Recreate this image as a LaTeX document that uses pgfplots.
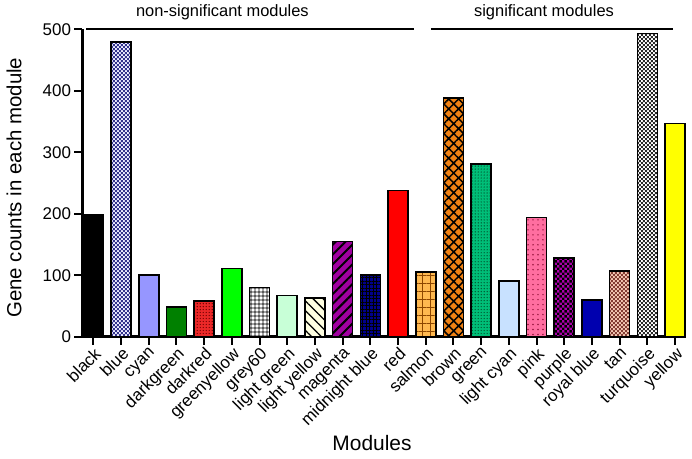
\documentclass[border=0pt]{standalone}
\usepackage{fontspec}
\setmainfont{Liberation Sans}
\usepackage{pgfplots}
\pgfplotsset{compat=1.18}
\usetikzlibrary{patterns,patterns.meta}
\tikzdeclarepattern{
  name=checker,
  type=uncolored,
  bounding box={(0pt,0pt) and (4pt,4pt)},
  tile size={(4pt,4pt)},
  code={\fill (0pt,0pt) rectangle (2pt,2pt); \fill (2pt,2pt) rectangle (4pt,4pt);}
}
\tikzdeclarepattern{
  name=bigchecker,
  type=uncolored,
  bounding box={(0pt,0pt) and (5pt,5pt)},
  tile size={(5pt,5pt)},
  code={\fill (0pt,0pt) rectangle (2.5pt,2.5pt); \fill (2.5pt,2.5pt) rectangle (5pt,5pt);}
}
\definecolor{cBlack}{RGB}{0,0,0}
\definecolor{cBlue}{RGB}{235,235,255}
\definecolor{cBluePat}{RGB}{50,50,140}
\definecolor{cCyan}{RGB}{150,150,255}
\definecolor{cDarkgreen}{RGB}{0,128,0}
\definecolor{cDarkred}{RGB}{235,40,40}
\definecolor{cDarkredPat}{RGB}{110,0,0}
\definecolor{cGreenyellow}{RGB}{0,255,0}
\definecolor{cLightgreen}{RGB}{200,255,215}
\definecolor{cLightyellow}{RGB}{255,255,225}
\definecolor{cMagenta}{RGB}{160,0,160}
\definecolor{cMidnight}{RGB}{0,0,140}
\definecolor{cRed}{RGB}{255,0,0}
\definecolor{cSalmon}{RGB}{255,185,80}
\definecolor{cSalmonPat}{RGB}{140,70,0}
\definecolor{cBrown}{RGB}{240,130,20}
\definecolor{cGreen}{RGB}{0,190,120}
\definecolor{cGreenPat}{RGB}{0,90,50}
\definecolor{cLightcyan}{RGB}{200,225,255}
\definecolor{cPink}{RGB}{255,110,160}
\definecolor{cPinkPat}{RGB}{150,20,60}
\definecolor{cPurple}{RGB}{170,0,170}
\definecolor{cRoyal}{RGB}{0,0,175}
\definecolor{cTan}{RGB}{245,200,180}
\definecolor{cTanPat}{RGB}{130,60,50}
\definecolor{cTurq}{RGB}{255,255,255}
\definecolor{cTurqPat}{RGB}{40,40,40}
\definecolor{cYellow}{RGB}{255,255,0}
\pgfplotsset{
  mybar/.style={ybar, bar width=20bp, bar shift=0pt, draw=black, line width=1.6bp},
}
\begin{document}
\begin{tikzpicture}
\begin{axis}[
  scale only axis, width=602.5bp, height=307.4bp,
  xmin=-0.39, xmax=21.36, ymin=0, ymax=500,
  axis x line*=bottom, axis y line*=left,
  axis line style={line width=2.6bp, black},
  ytick={0,100,...,500},
  xtick={0,...,21},
  xticklabels={black,blue,cyan,darkgreen,darkred,greenyellow,grey60,light green,light yellow,magenta,midnight blue,red,salmon,brown,green,light cyan,pink,purple,royal blue,tan,turquoise,yellow},
  xticklabel style={rotate=45, anchor=north east, inner sep=1bp},
  tick align=outside, major tick length=8bp,
  tick style={line width=2bp, black},
  tick label style={font=\fontsize{17}{20}\selectfont},
  /pgf/number format/assume math mode=true,
  xlabel={Modules}, ylabel={Gene counts in each module},
  xlabel style={font=\fontsize{21}{24}\selectfont, at={(axis description cs:0.4805,-0.3458)}, anchor=center},
  ylabel style={font=\fontsize{20.5}{24}\selectfont, at={(axis description cs:-0.1137,0.485)}, anchor=center},
  clip=false,
]
\addplot[mybar, fill=cBlack] coordinates {(0,198)};
\addplot[mybar, preaction={fill=cBlue}, pattern=checker, pattern color=cBluePat] coordinates {(1,479)};
\addplot[mybar, fill=cCyan] coordinates {(2,100)};
\addplot[mybar, fill=cDarkgreen] coordinates {(3,48)};
\addplot[mybar, preaction={fill=cDarkred}, pattern={Dots[distance=3pt,radius=0.7pt]}, pattern color=cDarkredPat] coordinates {(4,58)};
\addplot[mybar, fill=cGreenyellow] coordinates {(5,111)};
\addplot[mybar, preaction={fill=white}, pattern={Hatch[angle=0,distance=4pt,line width=0.9pt]}, pattern color=black] coordinates {(6,80)};
\addplot[mybar, fill=cLightgreen] coordinates {(7,67)};
\addplot[mybar, preaction={fill=cLightyellow}, pattern={Lines[angle=-45,distance=7pt,line width=1.3pt]}, pattern color=black] coordinates {(8,62.5)};
\addplot[mybar, preaction={fill=cMagenta}, pattern={Lines[angle=45,distance=7pt,line width=2pt]}, pattern color=black] coordinates {(9,155)};
\addplot[mybar, preaction={fill=cMidnight}, pattern={Hatch[angle=0,distance=3.5pt,line width=0.7pt]}, pattern color=black] coordinates {(10,100)};
\addplot[mybar, fill=cRed] coordinates {(11,238)};
\addplot[mybar, preaction={fill=cSalmon}, pattern={Hatch[angle=0,distance=8pt,line width=1.4pt]}, pattern color=cSalmonPat] coordinates {(12,105)};
\addplot[mybar, preaction={fill=cBrown}, pattern={Hatch[angle=45,distance=7pt,line width=1.5pt]}, pattern color=black] coordinates {(13,388)};
\addplot[mybar, preaction={fill=cGreen}, pattern={Dots[distance=3pt,radius=0.7pt]}, pattern color=cGreenPat] coordinates {(14,281)};
\addplot[mybar, fill=cLightcyan] coordinates {(15,90.6)};
\addplot[mybar, preaction={fill=cPink}, pattern={Dots[distance=5pt,radius=0.8pt]}, pattern color=cPinkPat] coordinates {(16,193.6)};
\addplot[mybar, preaction={fill=cPurple}, pattern=bigchecker, pattern color=black] coordinates {(17,128)};
\addplot[mybar, fill=cRoyal] coordinates {(18,60)};
\addplot[mybar, preaction={fill=cTan}, pattern=checker, pattern color=cTanPat] coordinates {(19,107)};
\addplot[mybar, preaction={fill=cTurq}, pattern=checker, pattern color=cTurqPat] coordinates {(20,493)};
\addplot[mybar, fill=cYellow] coordinates {(21,347)};
\draw[line width=1.8bp] (axis cs:-0.26,500) -- (axis cs:11.58,500);
\draw[line width=1.8bp] (axis cs:12.19,500) -- (axis cs:20.93,500);
\node[font=\fontsize{16.5}{20}\selectfont, anchor=base] at (axis cs:4.66,521) {non-significant modules};
\node[font=\fontsize{16.5}{20}\selectfont, anchor=base] at (axis cs:16.27,521) {significant modules};
\end{axis}
\pgfresetboundingbox
\path (-82.5bp,-122.3bp) rectangle (609.5bp,336.7bp);
\end{tikzpicture}
\end{document}
